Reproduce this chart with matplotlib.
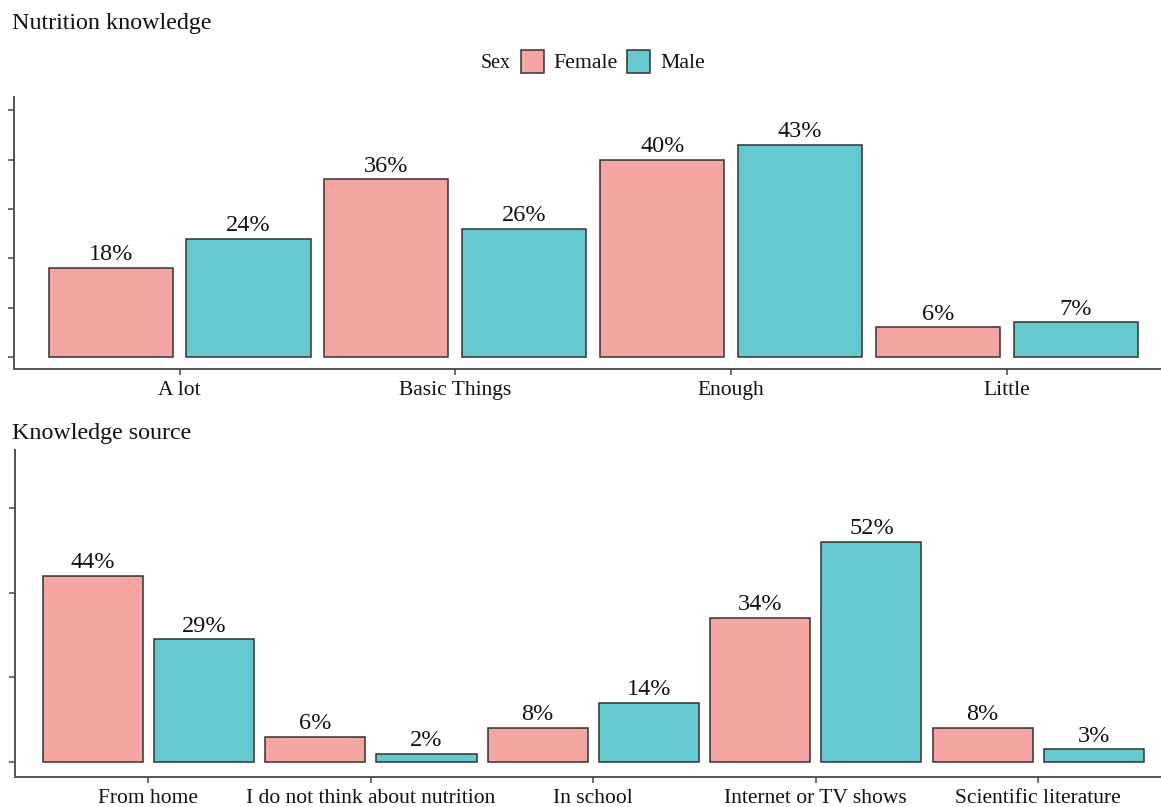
import numpy as np
import matplotlib.pyplot as plt
from matplotlib.patches import Rectangle

plt.rcParams['font.family'] = ['Liberation Serif', 'DejaVu Serif']

# data
knowledge_cats = ["A lot", "Basic Things", "Enough", "Little"]
knowledge_female = [18, 36, 40, 6]
knowledge_male = [24, 26, 43, 7]

source_cats = ["From home", "I do not think about nutrition", "In school",
               "Internet or TV shows", "Scientific literature"]
source_female = [44, 6, 8, 34, 8]
source_male = [29, 2, 14, 52, 3]

sexes = ["Female", "Male"]
colors = {"Female": "#F6A6A2", "Male": "#66C9D0"}
edge = "#333333"
axcol = "#555555"


def draw_panel(ax, cats, fem, mal, ylim, yticks):
    x = np.arange(len(cats))
    for off, vals, sex in [(-0.25, fem, "Female"), (0.25, mal, "Male")]:
        ax.bar(x + off, vals, width=0.45, color=colors[sex], edgecolor=edge, linewidth=1.1, zorder=2)
        for xi, v in zip(x + off, vals):
            ax.annotate(f"{v}%", (xi, v), xytext=(0, 2), textcoords="offset points",
                        ha="center", va="bottom", fontsize=17.5, color="#111111")
    ax.set_xlim(-0.6, len(cats) - 1 + 0.567)
    ax.set_ylim(*ylim)
    ax.set_xticks(x)
    ax.set_xticklabels(cats, fontsize=15.5, color="#111111")
    ax.set_yticks(yticks)
    ax.set_yticklabels([])
    for s in ["top", "right"]:
        ax.spines[s].set_visible(False)
    for s in ["left", "bottom"]:
        ax.spines[s].set_color(axcol)
        ax.spines[s].set_linewidth(1.4)
    ax.tick_params(axis="both", color=axcol, width=1.2, length=4, pad=4.5)


fig = plt.figure(figsize=(11.61, 8.07), dpi=100)

ax1 = fig.add_axes([0.0121, 0.5428, 0.99, 0.3370])
draw_panel(ax1, knowledge_cats, knowledge_female, knowledge_male,
           (-2.43, 52.7), [0, 10, 20, 30, 40, 50])

ax2 = fig.add_axes([0.0129, 0.0372, 0.99, 0.4052])
draw_panel(ax2, source_cats, source_female, source_male,
           (-3.55, 73.8), [0, 20, 40, 60])

# titles
fig.text(12 / 1161, 1 - 24 / 807, "Nutrition knowledge", fontsize=17.3, va="center", ha="left", color="#111111")
fig.text(12 / 1161, 1 - 434 / 807, "Knowledge source", fontsize=17.3, va="center", ha="left", color="#111111")

# legend
ly = 1 - 63 / 807
fig.text(496 / 1161, ly, "Sex", fontsize=14.3, va="center", ha="center", color="#111111")
for sex, bx, tx in [("Female", 521, 553), ("Male", 627, 660)]:
    fig.patches.append(Rectangle((bx / 1161, 1 - 73 / 807), 23 / 1161, 23 / 807,
                                 transform=fig.transFigure, facecolor=colors[sex],
                                 edgecolor=edge, linewidth=1.1))
    fig.text(tx / 1161, ly, sex, fontsize=15.7, va="center", ha="left", color="#111111")

fig.savefig("out.png", dpi=100)
